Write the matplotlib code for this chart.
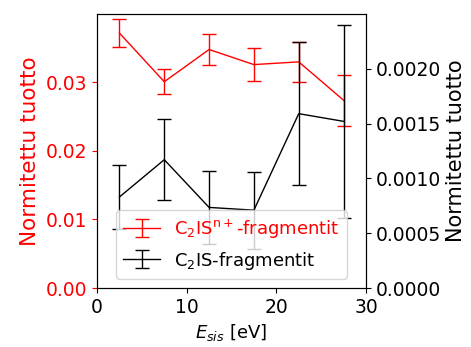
import matplotlib
matplotlib.use("Agg")
import matplotlib.pyplot as plt

# Energy bins (eV)
energy = [2.5, 7.5, 12.5, 17.5, 22.5, 27.5]

# C2IS^n+ fragments (left axis)
ion_yield = [0.0372, 0.0301, 0.0348, 0.0326, 0.0330, 0.0274]
ion_err = [0.0020, 0.0018, 0.0022, 0.0024, 0.0029, 0.0037]

# Neutral C2IS fragments (right axis)
neutral_yield = [0.00083, 0.00117, 0.000735, 0.00071, 0.00159, 0.00152]
neutral_err = [0.00029, 0.00037, 0.00033, 0.00035, 0.00065, 0.00088]

fig, ax = plt.subplots(figsize=(4.71, 3.47), dpi=100)
fig.subplots_adjust(left=0.206, right=0.777, top=0.960, bottom=0.170)

h1 = ax.errorbar(energy, ion_yield, yerr=ion_err, color='red', capsize=5,
                 lw=1, label='C$_2$IS$^{\\mathrm{n+}}$-fragmentit')
ax.set_xlim(0, 30)
ax.set_ylim(0, 0.04)
ax.set_yticks([0.0, 0.01, 0.02, 0.03])
ax.set_ylabel('Normitettu tuotto', color='red', fontsize=15.5)
ax.set_xlabel('$E_{sis}$ [eV]', fontsize=13)
ax.tick_params(axis='y', colors='red', labelsize=13.5)
ax.tick_params(axis='x', labelsize=13.5)

ax2 = ax.twinx()
h2 = ax2.errorbar(energy, neutral_yield, yerr=neutral_err, color='black',
                  capsize=5, lw=1, label='C$_2$IS-fragmentit')
ax2.set_ylim(0, 0.0025)
ax2.set_yticks([0.0, 0.0005, 0.0010, 0.0015, 0.0020])
ax2.set_ylabel('Normitettu tuotto', color='black', fontsize=15)
ax2.tick_params(axis='y', labelsize=13.5)

leg = ax2.legend([h1, h2], [h1.get_label(), h2.get_label()],
                 loc='lower center', fontsize=13)
for txt, col in zip(leg.get_texts(), ['red', 'black']):
    txt.set_color(col)

fig.savefig('out.png', dpi=100)
